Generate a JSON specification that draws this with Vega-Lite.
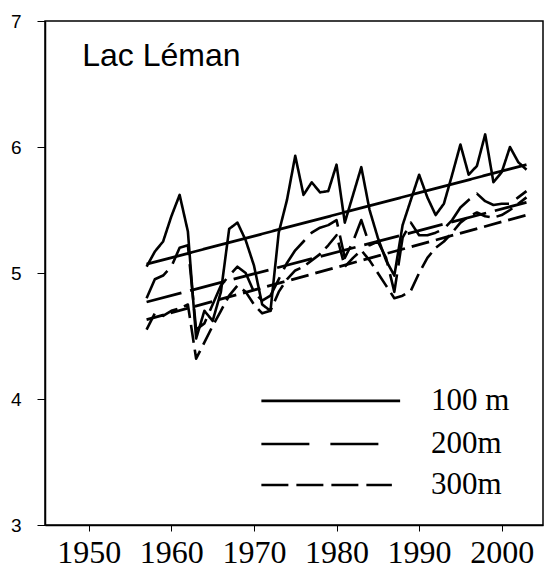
{
  "$schema": "https://vega.github.io/schema/vega-lite/v6.json",
  "width": 498,
  "height": 504,
  "autosize": "none",
  "padding": {"left": 45, "top": 21, "right": 2, "bottom": 47},
  "background": "white",
  "config": {
    "view": {"stroke": "black", "strokeWidth": 1.5},
    "axis": {"grid": false, "domainColor": "black", "domainWidth": 1.5, "tickColor": "black", "labelColor": "black", "format": "d"},
    "axisX": {"labelFont": "Liberation Serif", "labelFontSize": 32, "tickSize": 6, "labelPadding": 6, "labelFlush": false},
    "axisY": {"labelFont": "Liberation Sans", "labelFontSize": 19, "tickSize": 8, "labelPadding": 16}
  },
  "datasets": {
    "obs": [
      {"year": 1957, "depth": "100 m", "temp": 5.05}, {"year": 1958, "depth": "100 m", "temp": 5.17}, {"year": 1959, "depth": "100 m", "temp": 5.25}, {"year": 1960, "depth": "100 m", "temp": 5.45}, {"year": 1961, "depth": "100 m", "temp": 5.62}, {"year": 1962, "depth": "100 m", "temp": 5.33}, {"year": 1963, "depth": "100 m", "temp": 4.48}, {"year": 1964, "depth": "100 m", "temp": 4.7}, {"year": 1965, "depth": "100 m", "temp": 4.62}, {"year": 1966, "depth": "100 m", "temp": 4.85}, {"year": 1967, "depth": "100 m", "temp": 5.35}, {"year": 1968, "depth": "100 m", "temp": 5.4}, {"year": 1969, "depth": "100 m", "temp": 5.26}, {"year": 1970, "depth": "100 m", "temp": 5.06}, {"year": 1971, "depth": "100 m", "temp": 4.75}, {"year": 1972, "depth": "100 m", "temp": 4.7}, {"year": 1973, "depth": "100 m", "temp": 5.32}, {"year": 1974, "depth": "100 m", "temp": 5.58}, {"year": 1975, "depth": "100 m", "temp": 5.93}, {"year": 1976, "depth": "100 m", "temp": 5.62}, {"year": 1977, "depth": "100 m", "temp": 5.72}, {"year": 1978, "depth": "100 m", "temp": 5.64}, {"year": 1979, "depth": "100 m", "temp": 5.65}, {"year": 1980, "depth": "100 m", "temp": 5.86}, {"year": 1981, "depth": "100 m", "temp": 5.4}, {"year": 1982, "depth": "100 m", "temp": 5.62}, {"year": 1983, "depth": "100 m", "temp": 5.84}, {"year": 1984, "depth": "100 m", "temp": 5.5}, {"year": 1985, "depth": "100 m", "temp": 5.28}, {"year": 1986, "depth": "100 m", "temp": 5.1}, {"year": 1987, "depth": "100 m", "temp": 4.98}, {"year": 1988, "depth": "100 m", "temp": 5.38}, {"year": 1989, "depth": "100 m", "temp": 5.58}, {"year": 1990, "depth": "100 m", "temp": 5.78}, {"year": 1991, "depth": "100 m", "temp": 5.6}, {"year": 1992, "depth": "100 m", "temp": 5.46}, {"year": 1993, "depth": "100 m", "temp": 5.55}, {"year": 1994, "depth": "100 m", "temp": 5.78}, {"year": 1995, "depth": "100 m", "temp": 6.02}, {"year": 1996, "depth": "100 m", "temp": 5.78}, {"year": 1997, "depth": "100 m", "temp": 5.85}, {"year": 1998, "depth": "100 m", "temp": 6.1}, {"year": 1999, "depth": "100 m", "temp": 5.72}, {"year": 2000, "depth": "100 m", "temp": 5.8}, {"year": 2001, "depth": "100 m", "temp": 6.0}, {"year": 2002, "depth": "100 m", "temp": 5.88}, {"year": 2003, "depth": "100 m", "temp": 5.82},
      {"year": 1957, "depth": "200m", "temp": 4.8}, {"year": 1958, "depth": "200m", "temp": 4.95}, {"year": 1959, "depth": "200m", "temp": 4.98}, {"year": 1960, "depth": "200m", "temp": 5.05}, {"year": 1961, "depth": "200m", "temp": 5.2}, {"year": 1962, "depth": "200m", "temp": 5.22}, {"year": 1963, "depth": "200m", "temp": 4.55}, {"year": 1964, "depth": "200m", "temp": 4.6}, {"year": 1965, "depth": "200m", "temp": 4.75}, {"year": 1966, "depth": "200m", "temp": 4.9}, {"year": 1967, "depth": "200m", "temp": 4.98}, {"year": 1968, "depth": "200m", "temp": 5.05}, {"year": 1969, "depth": "200m", "temp": 5.0}, {"year": 1970, "depth": "200m", "temp": 4.85}, {"year": 1971, "depth": "200m", "temp": 4.78}, {"year": 1972, "depth": "200m", "temp": 4.82}, {"year": 1973, "depth": "200m", "temp": 4.95}, {"year": 1974, "depth": "200m", "temp": 5.08}, {"year": 1975, "depth": "200m", "temp": 5.18}, {"year": 1976, "depth": "200m", "temp": 5.25}, {"year": 1977, "depth": "200m", "temp": 5.32}, {"year": 1978, "depth": "200m", "temp": 5.36}, {"year": 1979, "depth": "200m", "temp": 5.38}, {"year": 1980, "depth": "200m", "temp": 5.42}, {"year": 1981, "depth": "200m", "temp": 5.12}, {"year": 1982, "depth": "200m", "temp": 5.25}, {"year": 1983, "depth": "200m", "temp": 5.42}, {"year": 1984, "depth": "200m", "temp": 5.22}, {"year": 1985, "depth": "200m", "temp": 5.25}, {"year": 1986, "depth": "200m", "temp": 5.12}, {"year": 1987, "depth": "200m", "temp": 4.85}, {"year": 1988, "depth": "200m", "temp": 5.28}, {"year": 1989, "depth": "200m", "temp": 5.4}, {"year": 1990, "depth": "200m", "temp": 5.3}, {"year": 1991, "depth": "200m", "temp": 5.3}, {"year": 1992, "depth": "200m", "temp": 5.32}, {"year": 1993, "depth": "200m", "temp": 5.35}, {"year": 1994, "depth": "200m", "temp": 5.42}, {"year": 1995, "depth": "200m", "temp": 5.52}, {"year": 1996, "depth": "200m", "temp": 5.58}, {"year": 1997, "depth": "200m", "temp": 5.63}, {"year": 1998, "depth": "200m", "temp": 5.57}, {"year": 1999, "depth": "200m", "temp": 5.54}, {"year": 2000, "depth": "200m", "temp": 5.55}, {"year": 2001, "depth": "200m", "temp": 5.55}, {"year": 2002, "depth": "200m", "temp": 5.6}, {"year": 2003, "depth": "200m", "temp": 5.65},
      {"year": 1957, "depth": "300m", "temp": 4.55}, {"year": 1958, "depth": "300m", "temp": 4.68}, {"year": 1959, "depth": "300m", "temp": 4.66}, {"year": 1960, "depth": "300m", "temp": 4.7}, {"year": 1961, "depth": "300m", "temp": 4.72}, {"year": 1962, "depth": "300m", "temp": 4.75}, {"year": 1963, "depth": "300m", "temp": 4.32}, {"year": 1964, "depth": "300m", "temp": 4.45}, {"year": 1965, "depth": "300m", "temp": 4.58}, {"year": 1966, "depth": "300m", "temp": 4.7}, {"year": 1967, "depth": "300m", "temp": 4.82}, {"year": 1968, "depth": "300m", "temp": 4.9}, {"year": 1969, "depth": "300m", "temp": 4.85}, {"year": 1970, "depth": "300m", "temp": 4.75}, {"year": 1971, "depth": "300m", "temp": 4.68}, {"year": 1972, "depth": "300m", "temp": 4.7}, {"year": 1973, "depth": "300m", "temp": 4.85}, {"year": 1974, "depth": "300m", "temp": 4.95}, {"year": 1975, "depth": "300m", "temp": 5.02}, {"year": 1976, "depth": "300m", "temp": 5.05}, {"year": 1977, "depth": "300m", "temp": 5.1}, {"year": 1978, "depth": "300m", "temp": 5.15}, {"year": 1979, "depth": "300m", "temp": 5.22}, {"year": 1980, "depth": "300m", "temp": 5.3}, {"year": 1981, "depth": "300m", "temp": 5.05}, {"year": 1982, "depth": "300m", "temp": 5.12}, {"year": 1983, "depth": "300m", "temp": 5.18}, {"year": 1984, "depth": "300m", "temp": 5.1}, {"year": 1985, "depth": "300m", "temp": 5.0}, {"year": 1986, "depth": "300m", "temp": 4.9}, {"year": 1987, "depth": "300m", "temp": 4.8}, {"year": 1988, "depth": "300m", "temp": 4.82}, {"year": 1989, "depth": "300m", "temp": 4.86}, {"year": 1990, "depth": "300m", "temp": 5.0}, {"year": 1991, "depth": "300m", "temp": 5.12}, {"year": 1992, "depth": "300m", "temp": 5.2}, {"year": 1993, "depth": "300m", "temp": 5.25}, {"year": 1994, "depth": "300m", "temp": 5.32}, {"year": 1995, "depth": "300m", "temp": 5.4}, {"year": 1996, "depth": "300m", "temp": 5.45}, {"year": 1997, "depth": "300m", "temp": 5.48}, {"year": 1998, "depth": "300m", "temp": 5.45}, {"year": 1999, "depth": "300m", "temp": 5.44}, {"year": 2000, "depth": "300m", "temp": 5.46}, {"year": 2001, "depth": "300m", "temp": 5.5}, {"year": 2002, "depth": "300m", "temp": 5.55}, {"year": 2003, "depth": "300m", "temp": 5.6}
    ],
    "trend": [
      {"year": 1957, "depth": "100 m", "temp": 5.07}, {"year": 2003, "depth": "100 m", "temp": 5.86},
      {"year": 1957, "depth": "200m", "temp": 4.77}, {"year": 2003, "depth": "200m", "temp": 5.56},
      {"year": 1957, "depth": "300m", "temp": 4.63}, {"year": 2003, "depth": "300m", "temp": 5.46}
    ]
  },
  "layer": [
    {
      "data": {"name": "obs"},
      "mark": {"type": "line", "color": "black", "strokeWidth": 2.6, "strokeCap": "butt", "strokeJoin": "round"},
      "encoding": {
        "x": {"field": "year", "type": "quantitative", "title": null, "scale": {"domain": [1944.7, 2005], "nice": false, "zero": false}, "axis": {"values": [1950, 1960, 1970, 1980, 1990, 2000]}},
        "y": {"field": "temp", "type": "quantitative", "title": null, "scale": {"domain": [3, 7], "nice": false, "zero": false}, "axis": {"values": [3, 4, 5, 6, 7]}},
        "detail": {"field": "depth"},
        "strokeDash": {"field": "depth", "type": "nominal", "scale": {"domain": ["100 m", "200m", "300m"], "range": [[1, 0], [36, 9], [18, 7]]}, "legend": null}
      }
    },
    {
      "data": {"name": "trend"},
      "mark": {"type": "line", "color": "black", "strokeWidth": 2.8, "strokeCap": "butt"},
      "encoding": {
        "x": {"field": "year", "type": "quantitative"},
        "y": {"field": "temp", "type": "quantitative"},
        "detail": {"field": "depth"},
        "strokeDash": {"field": "depth", "type": "nominal", "legend": null}
      }
    },
    {
      "data": {"values": [{}]},
      "mark": {"type": "rule", "color": "black", "strokeWidth": 2.8},
      "encoding": {"x": {"datum": 1970.9}, "x2": {"datum": 1987.7}, "y": {"datum": 3.985}}
    },
    {
      "data": {"values": [{}]},
      "mark": {"type": "rule", "color": "black", "strokeWidth": 2.6, "strokeDash": [48, 21], "strokeCap": "butt"},
      "encoding": {"x": {"datum": 1970.9}, "x2": {"datum": 1985.4}, "y": {"datum": 3.643}}
    },
    {
      "data": {"values": [{}]},
      "mark": {"type": "rule", "color": "black", "strokeWidth": 2.6, "strokeDash": [27, 8], "strokeCap": "butt"},
      "encoding": {"x": {"datum": 1970.9}, "x2": {"datum": 1986.7}, "y": {"datum": 3.317}}
    },
    {
      "data": {"values": [{"label": "100 m", "t": 3.985}, {"label": "200m", "t": 3.643}, {"label": "300m", "t": 3.317}]},
      "mark": {"type": "text", "font": "Liberation Serif", "fontSize": 31, "align": "left", "baseline": "middle", "color": "black"},
      "encoding": {"x": {"datum": 1991.45}, "y": {"field": "t", "type": "quantitative"}, "text": {"field": "label"}}
    },
    {
      "data": {"values": [{}]},
      "mark": {"type": "text", "font": "Liberation Sans", "fontSize": 32, "align": "left", "baseline": "alphabetic", "color": "black", "text": "Lac Léman"},
      "encoding": {"x": {"datum": 1949.2}, "y": {"datum": 6.643}}
    }
  ]
}
